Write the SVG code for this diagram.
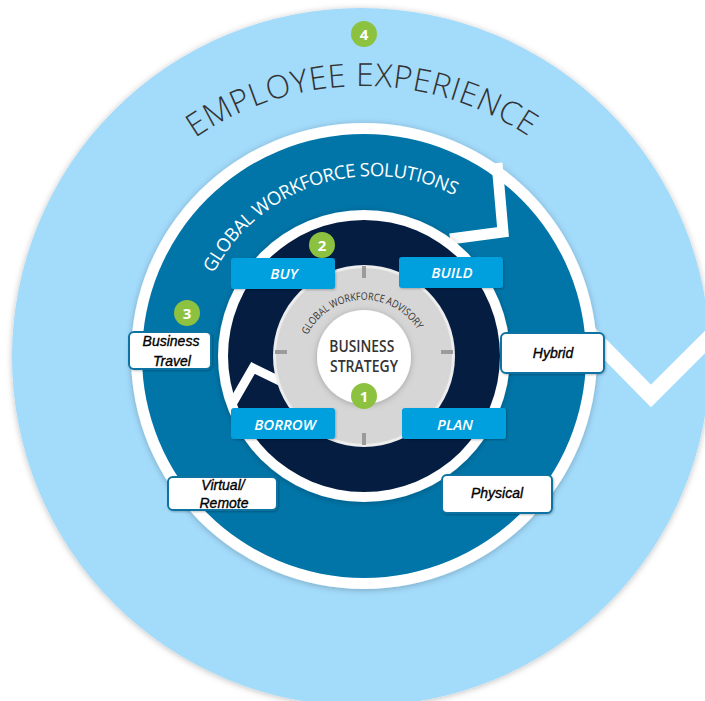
<svg xmlns="http://www.w3.org/2000/svg" width="705" height="701" viewBox="0 0 705 701">
  <defs>
    <filter id="sh" x="-20%" y="-20%" width="140%" height="140%">
      <feDropShadow dx="0" dy="1" stdDeviation="3" flood-color="#000" flood-opacity="0.25"/>
    </filter>
    <filter id="shs" x="-20%" y="-30%" width="140%" height="160%">
      <feDropShadow dx="1" dy="1" stdDeviation="1.2" flood-color="#000" flood-opacity="0.25"/>
    </filter>
    <path id="arcEE" d="M195.2,138 A297,297 0 0 1 530.8,138"/>
    <path id="arcGWS" d="M213.7,273.5 A179,179 0 0 1 456.2,196.5"/>
    <path id="arcGWA" d="M307.5,335 A63,63 0 0 1 420.5,335"/>
  </defs>
  <style>
    .ring-title { font-family: "Open Sans", "Liberation Sans", sans-serif; }
    .box { fill: #00A0DE; }
    .box-text { font-family: "Open Sans", "Liberation Sans", sans-serif; font-style: italic; font-weight: 600; font-size: 15px; fill: #ffffff; text-anchor: middle; }
    .label { fill: #ffffff; stroke: #0A73A3; stroke-width: 2; }
    .label-text { font-family: "Liberation Sans", Arial, sans-serif; font-style: italic; font-size: 14px; fill: #000000; stroke: #000000; stroke-width: 0.35; text-anchor: middle; }
    .badge { fill: #8CC23F; }
    .badge-text { font-family: "Open Sans", "Liberation Sans", sans-serif; font-weight: 700; font-size: 15px; fill: #ffffff; text-anchor: middle; }
    .notch { fill: none; stroke: #ffffff; stroke-linejoin: miter; stroke-linecap: butt; }
    .tick { stroke: #9B9B9B; stroke-width: 4; }
  </style>

  <rect x="0" y="0" width="705" height="701" fill="#ffffff"/>

  <g id="ring-employee-experience">
    <circle cx="361" cy="357" r="349" fill="#A3DBFB" filter="url(#sh)"/>
    <path class="notch" stroke-width="16" d="M588,332 L651,396 L711,336"/>
    <text class="ring-title" font-size="32" font-weight="300" fill="#333333"><textPath href="#arcEE" textLength="354" lengthAdjust="spacing">EMPLOYEE EXPERIENCE</textPath></text>
  </g>

  <g id="ring-global-workforce-solutions">
    <circle cx="364" cy="356" r="233" fill="#ffffff" filter="url(#sh)"/>
    <circle cx="364" cy="356" r="222" fill="#0175A8"/>
    <path class="notch" stroke-width="11" d="M497,163 L503,232 L450,239"/>
    <text class="ring-title" font-size="18.5" fill="#ffffff"><textPath href="#arcGWS" textLength="281" lengthAdjust="spacing">GLOBAL WORKFORCE SOLUTIONS</textPath></text>
  </g>

  <g id="ring-options">
    <circle cx="364" cy="356" r="146" fill="#ffffff" filter="url(#sh)"/>
    <circle cx="364" cy="356" r="136" fill="#041D41"/>
    <path class="notch" stroke-width="9" d="M231,406 L253,368 L290,386"/>
  </g>

  <g id="core-advisory">
    <circle cx="364" cy="356" r="91" fill="#EDEDED"/>
    <circle cx="364" cy="356" r="88" fill="#D6D6D6"/>
    <line class="tick" x1="364" y1="266" x2="364" y2="278"/>
    <line class="tick" x1="364" y1="433" x2="364" y2="445"/>
    <line class="tick" x1="275" y1="352" x2="287" y2="352"/>
    <line class="tick" x1="441" y1="352" x2="453" y2="352"/>
    <text class="ring-title" font-size="10.5" fill="#333333"><textPath href="#arcGWA" textLength="134" lengthAdjust="spacingAndGlyphs">GLOBAL WORKFORCE ADVISORY</textPath></text>
  </g>

  <g id="core-business-strategy">
    <circle cx="364" cy="357" r="47" fill="#ffffff" filter="url(#sh)"/>
    <text font-family="'Open Sans', 'Liberation Sans', sans-serif" font-weight="600" font-size="17" fill="#333333" text-anchor="middle">
      <tspan x="364" y="352" textLength="65" lengthAdjust="spacingAndGlyphs">BUSINESS</tspan>
      <tspan x="364" y="372" textLength="68" lengthAdjust="spacingAndGlyphs">STRATEGY</tspan>
    </text>
  </g>

  <g id="node-buy">
    <rect class="box" x="231" y="258" width="104" height="31" rx="3" filter="url(#shs)"/>
    <text class="box-text" x="284" y="279">BUY</text>
  </g>
  <g id="node-build">
    <rect class="box" x="399" y="257" width="104" height="31" rx="3" filter="url(#shs)"/>
    <text class="box-text" x="452" y="278">BUILD</text>
  </g>
  <g id="node-borrow">
    <rect class="box" x="231" y="408" width="104" height="31" rx="3" filter="url(#shs)"/>
    <text class="box-text" x="285" y="430">BORROW</text>
  </g>
  <g id="node-plan">
    <rect class="box" x="402" y="408" width="104" height="31" rx="3" filter="url(#shs)"/>
    <text class="box-text" x="455" y="430">PLAN</text>
  </g>

  <g id="label-business-travel">
    <rect class="label" x="129" y="332" width="82" height="37" rx="5" filter="url(#shs)"/>
    <text class="label-text"><tspan x="171" y="346">Business</tspan><tspan x="172" y="366">Travel</tspan></text>
  </g>
  <g id="label-virtual-remote">
    <rect class="label" x="168" y="477" width="109" height="33" rx="5" filter="url(#shs)"/>
    <text class="label-text"><tspan x="223" y="490">Virtual/</tspan><tspan x="224" y="508">Remote</tspan></text>
  </g>
  <g id="label-hybrid">
    <rect class="label" x="501" y="333" width="103" height="40" rx="5" filter="url(#shs)"/>
    <text class="label-text" x="553" y="358">Hybrid</text>
  </g>
  <g id="label-physical">
    <rect class="label" x="442" y="475" width="110" height="38" rx="5" filter="url(#shs)"/>
    <text class="label-text" x="497" y="498">Physical</text>
  </g>

  <g id="badge-1">
    <circle class="badge" cx="364" cy="396" r="13"/>
    <text class="badge-text" x="364" y="401.5">1</text>
  </g>
  <g id="badge-2">
    <circle class="badge" cx="322" cy="245" r="13"/>
    <text class="badge-text" x="322" y="250.5">2</text>
  </g>
  <g id="badge-3">
    <circle class="badge" cx="187" cy="313" r="13"/>
    <text class="badge-text" x="187" y="318.5">3</text>
  </g>
  <g id="badge-4">
    <circle class="badge" cx="364" cy="34" r="13"/>
    <text class="badge-text" x="364" y="39.5">4</text>
  </g>

  <g id="connectors"></g>
</svg>
